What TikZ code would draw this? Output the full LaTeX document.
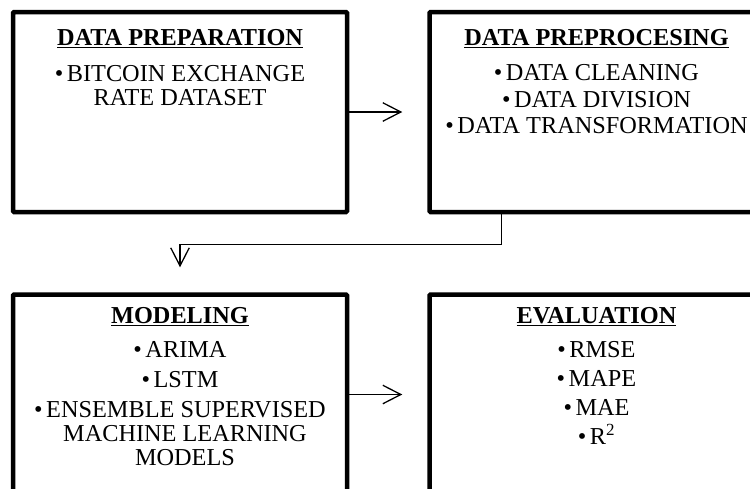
\documentclass[tikz,border=0pt]{standalone}
\usepackage{fontspec}
\setmainfont{Liberation Serif}
\usetikzlibrary{positioning,arrows.meta}

\tikzset{
  stage/.style={draw, line width=4.5pt, rounded corners=1pt,
    minimum width=334pt, minimum height=200pt},
  stagetext/.style={inner sep=0pt, align=center,
    font=\fontsize{24.3}{24}\selectfont},
  link/.style={line width=1.3pt, shorten >=25pt,
    -{Straight Barb[length=18pt,width=18.5pt]}}
}
\newcommand{\stagetitle}[1]{\textbf{\underline{#1}}}
\newcommand{\itm}{\textbullet\hspace{3.5pt}}

\begin{document}
\begin{tikzpicture}

  \useasboundingbox (0,0) rectangle (750pt,-488pt);
  \clip (0,0) rectangle (750pt,-488pt);

        % draw boxes
  \node[stage] (prep) at (180pt,-112pt) {};
  \node[stage, right=78pt of prep] (preproc) {};
  \node[stage, below=78pt of prep] (model) {};
  \node[stage, right=78pt of model] (eval) {};

        % box texts
  \node[stagetext, below=19.5pt of prep.north] (prep-txt)
    {\stagetitle{DATA PREPARATION}\\[11.5pt]
     \itm BITCOIN EXCHANGE\\
     RATE DATASET};

  \node[stagetext, below=19.5pt of preproc.north] (preproc-txt)
    {\stagetitle{DATA PREPROCESING}\\[11pt]
     \itm DATA CLEANING\\[2.5pt]
     \itm DATA DIVISION\\[2.5pt]
     \itm DATA TRANSFORMATION};

  \node[stagetext, below=15pt of model.north] (model-txt)
    {\stagetitle{MODELING}\\[9.5pt]
     \itm ARIMA\\[6pt]
     \itm LSTM\\[6pt]
     \itm ENSEMBLE SUPERVISED\\
     \hspace*{10pt}MACHINE LEARNING\\
     \hspace*{10pt}MODELS};

  \node[stagetext, below=15pt of eval.north] (eval-txt)
    {\stagetitle{EVALUATION}\\[9.5pt]
     \itm RMSE\\[5pt]
     \itm MAPE\\[5pt]
     \itm MAE\\[5pt]
     \itm R\textsuperscript{2}};

        % draw arrows
  \coordinate (turn) at ([xshift=74pt]preproc.south west);
  \draw[link] (prep) -- (preproc);
  \draw[link] (model) -- (eval);
  \draw[link] (turn) -- ++(0,-30pt) -| (model.north);

\end{tikzpicture}
\end{document}
